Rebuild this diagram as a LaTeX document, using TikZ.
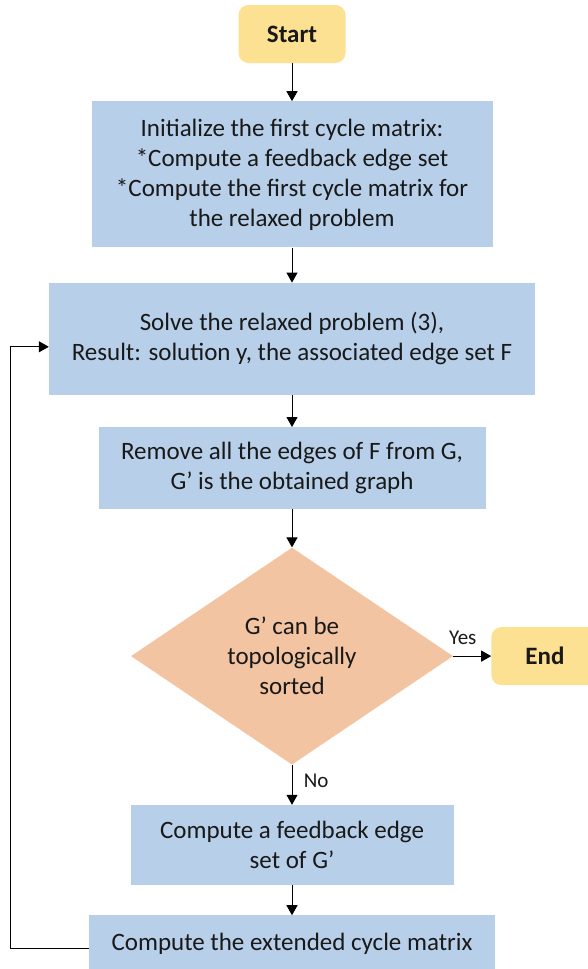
\documentclass[tikz,border=0pt]{standalone}
\usepackage{fontspec}
\setmainfont{Carlito}
\usetikzlibrary{positioning,shapes.geometric,arrows.meta}
\definecolor{boxblue}{RGB}{183,207,233}
\definecolor{termgold}{RGB}{253,225,146}
\definecolor{testpeach}{RGB}{243,196,162}

\begin{document}
\begin{tikzpicture}[x=1pt, y=1pt,
	every node/.style={font=\fontsize{25pt}{30pt}\selectfont, text=black!90, align=center},
	term/.style={rectangle, rounded corners=10pt, fill=termgold, minimum width=107pt,
		minimum height=58pt, font=\fontsize{25pt}{30pt}\selectfont\bfseries},
	proc/.style={rectangle, fill=boxblue, inner sep=0pt},
	test/.style={diamond, fill=testpeach, inner sep=0pt, minimum width=322pt, minimum height=217pt},
	arr/.style={-{Triangle[length=10pt,width=11pt]}, line width=1pt},
	lbl/.style={font=\fontsize{21pt}{24pt}\selectfont}]
\useasboundingbox (0,0) rectangle (587,-969);
\node[term] (start) at (292,-34) {Start};
\node[proc, minimum width=401pt, minimum height=146pt, below=38pt of start] (init)
	{Initialize the first cycle matrix:\\*Compute a feedback edge set\\*Compute the first cycle matrix for\\the relaxed problem};
\node[proc, minimum width=486pt, minimum height=112pt, below=35pt of init] (solve)
	{Solve the relaxed problem (3),\\Result: solution y, the associated edge set F};
\node[proc, minimum width=387pt, minimum height=82pt, below=32pt of solve] (remove)
	{Remove all the edges of F from G,\\G’ is the obtained graph};
\node[test, below=38pt of remove] (sorted) {G’ can be\\topologically\\sorted};
\node[term, right=38pt of sorted] (end) {End};
\node[proc, minimum width=323pt, minimum height=80pt, below=40pt of sorted] (feedback)
	{Compute a feedback edge\\set of G’};
\node[proc, minimum width=406pt, minimum height=56pt, below=30pt of feedback] (extend)
	{Compute the extended cycle matrix};

\draw[arr] (start) -- (init);
\draw[arr] (init) -- (solve);
\draw[arr] (solve) -- (remove);
\draw[arr] (remove) -- (sorted);
\draw[arr] (sorted) -- node[lbl, above=8pt, pos=0.25] {Yes} (end);
\draw[arr] (sorted) -- node[lbl, right=8pt, pos=0.4] {No} (feedback);
\draw[arr] (feedback) -- (extend);
% back to the relaxed problem
\draw[arr] ([yshift=-5pt]extend.west) -- ++(-78,0) |- ([yshift=-8pt]solve.west);
\end{tikzpicture}
\end{document}
